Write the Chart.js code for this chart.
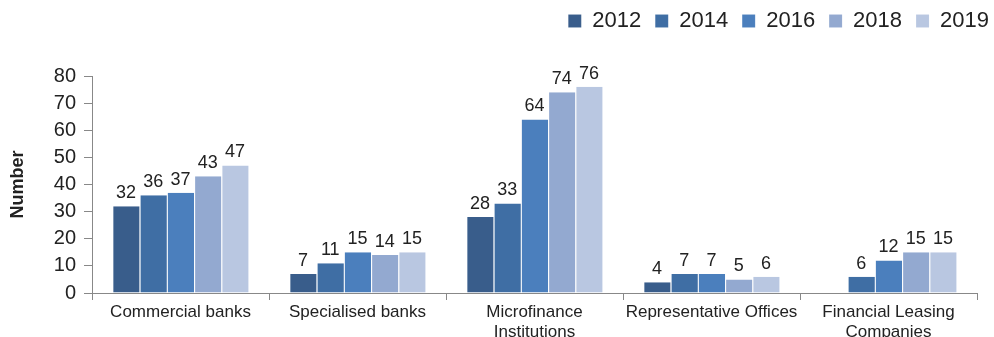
<!DOCTYPE html>
<html>
<head>
<meta charset="utf-8">
<script src="https://cdn.jsdelivr.net/npm/chart.js@4"></script>
<style>
  html, body { margin: 0; padding: 0; background: #fff; }
  #wrap { width: 994px; height: 337px; }
</style>
</head>
<body>
<div id="wrap"><canvas id="myChart"></canvas></div>
<script>
var categories = [
  ['Commercial banks'],
  ['Specialised banks'],
  ['Microfinance', 'Institutions'],
  ['Representative Offices'],
  ['Financial Leasing', 'Companies']
];
var years = ['2012', '2014', '2016', '2018', '2019'];
var values2012 = [32, 7, 28, 4, null];
var values2014 = [36, 11, 33, 7, 6];
var values2016 = [37, 15, 64, 7, 12];
var values2018 = [43, 14, 74, 5, 15];
var values2019 = [47, 15, 76, 6, 15];
var yTicks = [0, 10, 20, 30, 40, 50, 60, 70, 80];

var colors = ['#395d8b', '#3f6ea4', '#4b7fbd', '#93a9d0', '#b9c7e1'];
var allValues = [values2012, values2014, values2016, values2018, values2019];

var FONT = '"Liberation Sans", Arial, Helvetica, sans-serif';

// draws the value above every bar
var barLabels = {
  id: 'barLabels',
  afterDatasetsDraw: function (chart) {
    var ctx = chart.ctx;
    ctx.save();
    ctx.font = '18px ' + FONT;
    ctx.fillStyle = '#222';
    ctx.textAlign = 'center';
    ctx.textBaseline = 'bottom';
    chart.data.datasets.forEach(function (ds, i) {
      var meta = chart.getDatasetMeta(i);
      meta.data.forEach(function (bar, j) {
        var v = ds.data[j];
        if (v === null || v === undefined) return;
        ctx.fillText(String(v), bar.x, bar.y - 4);
      });
    });
    ctx.restore();
  }
};

var config = {
  type: 'bar',
  data: {
    labels: categories,
    datasets: years.map(function (y, i) {
      return {
        label: y,
        data: allValues[i],
        backgroundColor: colors[i],
        borderColor: 'rgba(255,255,255,0.35)',
        borderWidth: { left: 1, right: 0, top: 0, bottom: 0 },
        categoryPercentage: 0.77,
        barPercentage: 1.0
      };
    })
  },
  options: {
    responsive: true,
    maintainAspectRatio: false,
    animation: false,
    layout: { padding: { top: 30, right: 17, bottom: 0, left: 0 } },
    plugins: {
      legend: {
        display: true,
        position: 'top',
        align: 'end',
        labels: {
          boxWidth: 13,
          boxHeight: 13,
          padding: 14,
          color: '#222',
          font: { family: FONT, size: 22 }
        }
      },
      tooltip: { enabled: false }
    },
    scales: {
      x: {
        grid: {
          display: true,
          offset: true,
          drawOnChartArea: false,
          drawTicks: true,
          tickLength: 7,
          color: '#888'
        },
        border: { display: true, color: '#888' },
        ticks: {
          color: '#222',
          font: { family: FONT, size: 17, lineHeight: 1.2 },
          maxRotation: 0,
          padding: 2
        },
        afterFit: function (scale) { scale.height = 44; }
      },
      y: {
        min: 0,
        max: 80,
        afterBuildTicks: function (scale) {
          scale.ticks = yTicks.map(function (v) { return { value: v }; });
        },
        grid: {
          display: true,
          drawOnChartArea: false,
          drawTicks: true,
          tickLength: 8,
          color: '#888'
        },
        border: { display: true, color: '#888' },
        ticks: {
          autoSkip: false,
          color: '#222',
          font: { family: FONT, size: 20 },
          padding: 8
        },
        title: {
          display: true,
          text: 'Number',
          color: '#222',
          font: { family: FONT, size: 18, weight: 'bold' },
          padding: { top: 7, bottom: 0 }
        },
        afterFit: function (scale) { scale.width = 92; }
      }
    }
  },
  plugins: [barLabels]
};

var myChart = new Chart(document.getElementById('myChart').getContext('2d'), config);

// the legend sits higher and further right than the plot padding allows
var legendDraw = myChart.legend.draw;
myChart.legend.draw = function () {
  var ctx = myChart.ctx;
  ctx.save();
  ctx.translate(26, -34);
  legendDraw.apply(this, arguments);
  ctx.restore();
};
myChart.draw();
</script>
</body>
</html>
